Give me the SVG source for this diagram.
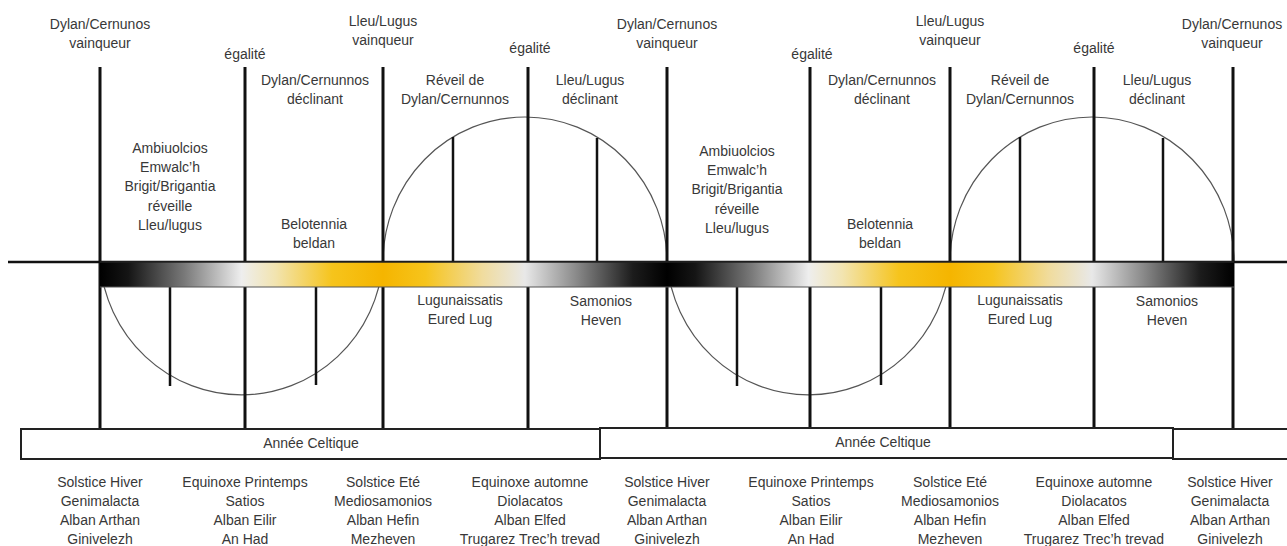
<svg xmlns="http://www.w3.org/2000/svg" width="1287" height="546" viewBox="0 0 1287 546">
<style>
text{font-family:"Liberation Sans",Arial,sans-serif;font-size:14px;fill:#383838;text-anchor:middle}
.main{stroke:#111;stroke-width:3;fill:none}
.inner{stroke:#111;stroke-width:2.5;fill:none}
.arc{stroke:#555;stroke-width:1.2;fill:none}
.box{fill:#fff;stroke:#222;stroke-width:2}
</style>
<defs>
<linearGradient id="bg1" x1="0" y1="0" x2="1" y2="0">
<stop offset="0" stop-color="#000"/>
<stop offset="0.1" stop-color="#151515"/>
<stop offset="0.3" stop-color="#7a7a7a"/>
<stop offset="0.5" stop-color="#eeeeee"/>
<stop offset="0.62" stop-color="#f2e4b0"/>
<stop offset="0.82" stop-color="#f6c41c"/>
<stop offset="1" stop-color="#f5b500"/>
</linearGradient>
<linearGradient id="bg2" x1="0" y1="0" x2="1" y2="0">
<stop offset="0" stop-color="#f5b500"/>
<stop offset="0.15" stop-color="#f6c41c"/>
<stop offset="0.35" stop-color="#f0dc9e"/>
<stop offset="0.5" stop-color="#e8e8e8"/>
<stop offset="0.68" stop-color="#8a8a8a"/>
<stop offset="0.88" stop-color="#1c1c1c"/>
<stop offset="1" stop-color="#000"/>
</linearGradient>
</defs>
<rect width="1287" height="546" fill="#fff"/>

<g id="arcs">
<path class="arc" d="M383 262 A142 145 0 0 1 667 262"/>
<path class="arc" d="M950 262 A142 145 0 0 1 1234 262"/>
<path class="arc" d="M100 262 A142 145 0 0 0 383 262"/>
<path class="arc" d="M667 262 A142 145 0 0 0 950 262"/>
</g>

<g id="connectors">
<line class="main" x1="8" y1="262" x2="1287" y2="262" style="stroke-width:2.5"/>
<line class="main" x1="100" y1="67" x2="100" y2="429"/>
<line class="main" x1="245" y1="67" x2="245" y2="429"/>
<line class="main" x1="383" y1="67" x2="383" y2="429"/>
<line class="main" x1="528" y1="67" x2="528" y2="429"/>
<line class="main" x1="667" y1="67" x2="667" y2="429"/>
<line class="main" x1="810" y1="67" x2="810" y2="429"/>
<line class="main" x1="950" y1="67" x2="950" y2="429"/>
<line class="main" x1="1094" y1="67" x2="1094" y2="429"/>
<line class="main" x1="1233" y1="67" x2="1233" y2="429"/>
<line class="inner" x1="453" y1="137" x2="453" y2="262"/>
<line class="inner" x1="597" y1="138" x2="597" y2="262"/>
<line class="inner" x1="1020" y1="137" x2="1020" y2="262"/>
<line class="inner" x1="1163" y1="138" x2="1163" y2="262"/>
<line class="inner" x1="170" y1="286" x2="170" y2="386"/>
<line class="inner" x1="316" y1="286" x2="316" y2="385"/>
<line class="inner" x1="737" y1="286" x2="737" y2="386"/>
<line class="inner" x1="881" y1="286" x2="881" y2="385"/>
</g>

<g id="bar">
<rect x="100" y="262" width="283" height="25" fill="url(#bg1)"/>
<rect x="383" y="262" width="284" height="25" fill="url(#bg2)"/>
<rect x="667" y="262" width="283" height="25" fill="url(#bg1)"/>
<rect x="950" y="262" width="284" height="25" fill="url(#bg2)"/>
<line x1="100" y1="287" x2="1234" y2="287" stroke="#555" stroke-width="1"/>
<line x1="100" y1="262" x2="1234" y2="262" stroke="#222" stroke-width="1.5"/>
</g>

<g id="top-labels">
<text x="100" y="29">Dylan/Cernunos</text><text x="100" y="48">vainqueur</text>
<text x="245" y="59">égalité</text>
<text x="383" y="26">Lleu/Lugus</text><text x="383" y="45">vainqueur</text>
<text x="530" y="53">égalité</text>
<text x="667" y="29">Dylan/Cernunos</text><text x="667" y="48">vainqueur</text>
<text x="812" y="59">égalité</text>
<text x="950" y="26">Lleu/Lugus</text><text x="950" y="45">vainqueur</text>
<text x="1094" y="53">égalité</text>
<text x="1232" y="29">Dylan/Cernunos</text><text x="1232" y="48">vainqueur</text>
</g>

<g id="phase-labels">
<text x="315" y="85">Dylan/Cernunnos</text><text x="315" y="104">déclinant</text>
<text x="455" y="85">Réveil de</text><text x="455" y="104">Dylan/Cernunnos</text>
<text x="590" y="85">Lleu/Lugus</text><text x="590" y="104">déclinant</text>
<text x="882" y="85">Dylan/Cernunnos</text><text x="882" y="104">déclinant</text>
<text x="1020" y="85">Réveil de</text><text x="1020" y="104">Dylan/Cernunnos</text>
<text x="1157" y="85">Lleu/Lugus</text><text x="1157" y="104">déclinant</text>
</g>

<g id="ambiuolcios-1">
<text x="170" y="153">Ambiuolcios</text><text x="170" y="172">Emwalc’h</text><text x="170" y="191">Brigit/Brigantia</text><text x="170" y="211">réveille</text><text x="170" y="230">Lleu/lugus</text>
</g>
<g id="ambiuolcios-2">
<text x="737" y="156">Ambiuolcios</text><text x="737" y="175">Emwalc’h</text><text x="737" y="194">Brigit/Brigantia</text><text x="737" y="214">réveille</text><text x="737" y="233">Lleu/lugus</text>
</g>
<g id="belotennia-1"><text x="314" y="229">Belotennia</text><text x="314" y="248">beldan</text></g>
<g id="belotennia-2"><text x="880" y="229">Belotennia</text><text x="880" y="248">beldan</text></g>

<g id="lower-labels">
<text x="460" y="305">Lugunaissatis</text><text x="460" y="324">Eured Lug</text>
<text x="601" y="306">Samonios</text><text x="601" y="325">Heven</text>
<text x="1020" y="305">Lugunaissatis</text><text x="1020" y="324">Eured Lug</text>
<text x="1167" y="306">Samonios</text><text x="1167" y="325">Heven</text>
</g>

<g id="annee-1"><rect class="box" x="21" y="429" width="579" height="30"/><text x="311" y="448">Année Celtique</text></g>
<g id="annee-2"><rect class="box" x="600" y="428" width="573" height="30"/><text x="883" y="447">Année Celtique</text></g>
<g id="annee-3"><rect class="box" x="1173" y="429" width="120" height="30"/></g>

<g id="bottom-labels">
<g id="col-1"><text x="100" y="487">Solstice Hiver</text><text x="100" y="506">Genimalacta</text><text x="100" y="525">Alban Arthan</text><text x="100" y="544">Ginivelezh</text></g>
<g id="col-2"><text x="245" y="487">Equinoxe Printemps</text><text x="245" y="506">Satios</text><text x="245" y="525">Alban Eilir</text><text x="245" y="544">An Had</text></g>
<g id="col-3"><text x="383" y="487">Solstice Eté</text><text x="383" y="506">Mediosamonios</text><text x="383" y="525">Alban Hefin</text><text x="383" y="544">Mezheven</text></g>
<g id="col-4"><text x="530" y="487">Equinoxe automne</text><text x="530" y="506">Diolacatos</text><text x="530" y="525">Alban Elfed</text><text x="530" y="544">Trugarez Trec’h trevad</text></g>
<g id="col-5"><text x="667" y="487">Solstice Hiver</text><text x="667" y="506">Genimalacta</text><text x="667" y="525">Alban Arthan</text><text x="667" y="544">Ginivelezh</text></g>
<g id="col-6"><text x="811" y="487">Equinoxe Printemps</text><text x="811" y="506">Satios</text><text x="811" y="525">Alban Eilir</text><text x="811" y="544">An Had</text></g>
<g id="col-7"><text x="950" y="487">Solstice Eté</text><text x="950" y="506">Mediosamonios</text><text x="950" y="525">Alban Hefin</text><text x="950" y="544">Mezheven</text></g>
<g id="col-8"><text x="1094" y="487">Equinoxe automne</text><text x="1094" y="506">Diolacatos</text><text x="1094" y="525">Alban Elfed</text><text x="1094" y="544">Trugarez Trec’h trevad</text></g>
<g id="col-9"><text x="1230" y="487">Solstice Hiver</text><text x="1230" y="506">Genimalacta</text><text x="1230" y="525">Alban Arthan</text><text x="1230" y="544">Ginivelezh</text></g>
</g>
</svg>
